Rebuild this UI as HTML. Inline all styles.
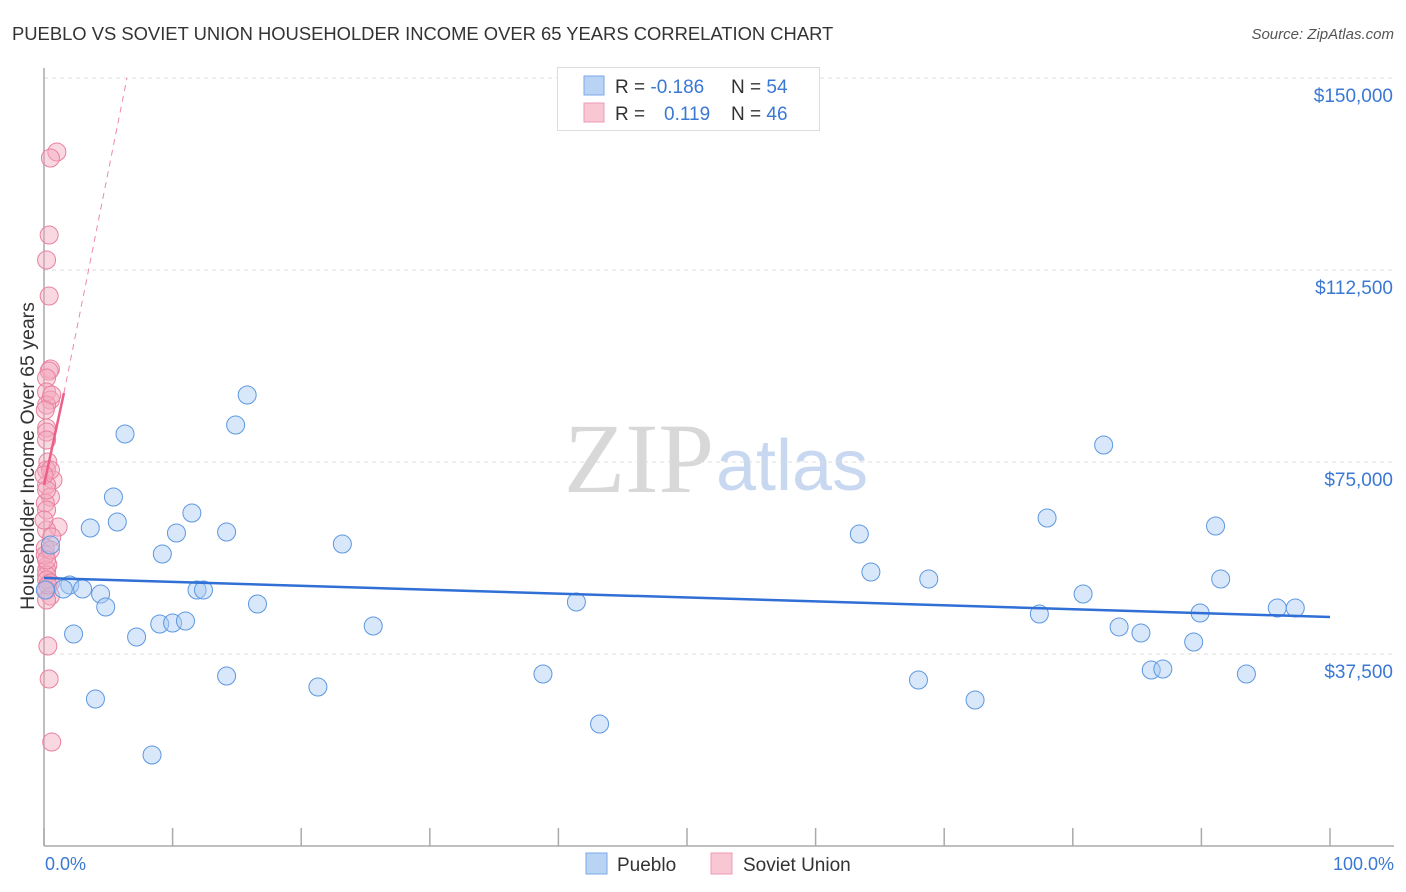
<!DOCTYPE html>
<html><head><meta charset="utf-8"><style>
body{margin:0;background:#fff;font-family:"Liberation Sans",sans-serif;}
svg{display:block}
</style></head><body>
<svg id="chart" width="1406" height="892" xmlns="http://www.w3.org/2000/svg">
<text x="12" y="40" font-size="18.4" fill="#333">PUEBLO VS SOVIET UNION HOUSEHOLDER INCOME OVER 65 YEARS CORRELATION CHART</text>
<text x="1394" y="39" font-size="15" fill="#555" font-style="italic" text-anchor="end">Source: ZipAtlas.com</text>
<text x="714" y="492" font-size="100" fill="#d8d8d8" text-anchor="end" font-family="Liberation Serif, serif">ZIP</text>
<text x="716" y="490" font-size="72" fill="#c8d8f0">atlas</text>
<g id="grid"></g><g id="axes"></g><g id="trends"></g><g id="points"></g>
<text transform="translate(34,456) rotate(-90)" font-size="19.5" fill="#333" text-anchor="middle">Householder Income Over 65 years</text>
<text x="45" y="870" font-size="18" fill="#3a78d4">0.0%</text>
<text x="1394" y="870" font-size="18" fill="#3a78d4" text-anchor="end">100.0%</text>
<g>
<rect x="557.5" y="67.5" width="262" height="63" fill="#fff" stroke="#ddd"/>
<rect x="584" y="76" width="20" height="19" fill="#b9d3f5" stroke="#7aa9e8"/>
<rect x="584" y="103" width="20" height="19" fill="#f9c6d4" stroke="#ee9ab3"/>
<text x="615" y="93" font-size="19" fill="#333">R = <tspan fill="#3a78d4">-0.186</tspan></text>
<text x="731" y="93" font-size="19" fill="#333">N = <tspan fill="#3a78d4">54</tspan></text>
<text x="615" y="120" font-size="19" fill="#333">R = <tspan fill="#3a78d4" x="664">0.119</tspan></text>
<text x="731" y="120" font-size="19" fill="#333">N = <tspan fill="#3a78d4">46</tspan></text>
</g>
<g>
<rect x="586" y="853" width="21" height="21" fill="#b9d3f5" stroke="#7aa9e8"/>
<text x="617" y="871" font-size="19" fill="#333">Pueblo</text>
<rect x="711" y="853" width="21" height="21" fill="#f9c6d4" stroke="#ee9ab3"/>
<text x="743" y="871" font-size="19" fill="#333">Soviet Union</text>
</g>
</svg>
<script>
const yTicks=[37500,75000,112500,150000];
const yTickLabels=["$37,500","$75,000","$112,500","$150,000"];
const blueX=[6.3,15.8,14.9,5.4,5.7,3.6,11.5,10.3,14.2,9.2,23.2,0.5,2.0,1.5,3.0,4.4,4.8,11.9,12.4,16.6,2.3,7.2,9.0,10.0,11.0,25.6,41.4,14.2,4.0,21.3,38.8,8.4,43.2,63.4,64.3,68.8,78.0,82.4,91.1,91.5,80.8,77.4,83.6,85.3,89.9,89.4,95.9,97.3,86.1,87.0,93.5,68.0,72.4,0.1];
const blueY=[80469,88086,82227,68164,63281,62109,65039,61133,61328,57031,58984,58789,50977,50195,50195,49219,46680,50000,50000,47266,41406,40820,43359,43555,43945,42969,47656,33203,28711,31055,33594,17773,23828,60938,53516,52148,64063,78320,62500,52148,49219,45313,42773,41602,45508,39844,46484,46484,34375,34570,33594,32422,28516,50000];
const pinkX=[1.0,0.5,0.4,0.2,0.4,0.5,0.4,0.2,0.2,0.5,0.2,0.2,0.2,0.3,0.2,0.7,0.2,0.5,0.1,1.1,0.2,0.6,0.1,0.3,0.2,0.2,0.2,0.5,0.2,0.5,0.3,0.4,0.6,0.2,0.2,0.1,0.0,0.5,0.6,0.5,0.2,0.1,0.0,0.2,0.2,0.3];
const pinkY=[135547,134375,119336,114453,107422,93164,92773,91406,88672,87109,86133,81641,80859,75000,73438,71484,70508,68164,66992,62305,61719,60352,58203,54883,53906,52930,51953,51367,50000,48828,39063,32617,20313,79297,65625,56836,63672,73438,88086,57813,48047,85156,72461,69531,55859,50977];
const blueTrendX=[0,100], blueTrendY=[52344,44727];
const pinkTrendX=[0,1.55], pinkTrendY=[70508,88477];
const pinkDashX=[1.55,6.45], pinkDashY=[88477,150000];
const NS="http://www.w3.org/2000/svg";
const xs=v=>44+v*12.86;
const ys=v=>846-v/37500*192;
function mk(tag,attrs,parent){const e=document.createElementNS(NS,tag);for(const k in attrs)e.setAttribute(k,attrs[k]);parent.appendChild(e);return e;}
const grid=document.getElementById('grid'),axes=document.getElementById('axes'),tr=document.getElementById('trends'),pts=document.getElementById('points');
yTicks.forEach((t,i)=>{
 const l=mk('line',{x1:44,x2:1394,y1:ys(t),y2:ys(t),stroke:'#ddd','stroke-dasharray':'4,4'},grid);
 
 
 const tx=mk('text',{x:1393,y:ys(t)+24,'font-size':19,fill:'#3a78d4','text-anchor':'end'},axes);
 tx.textContent=yTickLabels[i];
 
 
});
const ya=mk('line',{x1:44,x2:44,y1:68,y2:846,stroke:'#aaa','stroke-width':1.5},axes);


const xa=mk('line',{x1:44,x2:1394,y1:846,y2:846,stroke:'#aaa','stroke-width':1.5},axes);


for(let i=0;i<=10;i++){
 const tk=mk('line',{x1:xs(i*10),x2:xs(i*10),y1:828,y2:846,stroke:'#aaa','stroke-width':1.5},axes);
 
 
}
function dots(X,Y,fill,stroke,name){
 X.forEach((x,i)=>{
  const c=mk('circle',{cx:xs(x),cy:ys(Y[i]),r:9,fill:fill,'fill-opacity':0.45,stroke:stroke,'stroke-width':1},pts);
  
  
 });
}
dots(pinkX,pinkY,'#f5a9bf','#e8819f','soviet-union-point');
dots(blueX,blueY,'#a9c9f2','#5d98e0','pueblo-point');
const bt=mk('line',{x1:xs(blueTrendX[0]),y1:ys(blueTrendY[0]),x2:xs(blueTrendX[1]),y2:ys(blueTrendY[1]),stroke:'#2f6fd6','stroke-width':2.5},pts);


const pt=mk('line',{x1:xs(pinkTrendX[0]),y1:ys(pinkTrendY[0]),x2:xs(pinkTrendX[1]),y2:ys(pinkTrendY[1]),stroke:'#ec5f88','stroke-width':2.5},pts);


const pd=mk('line',{x1:xs(pinkDashX[0]),y1:ys(pinkDashY[0]),x2:xs(pinkDashX[1]),y2:ys(pinkDashY[1]),stroke:'#ec8aa6','stroke-width':1,'stroke-dasharray':'6,5'},tr);


</script>
</body></html>
